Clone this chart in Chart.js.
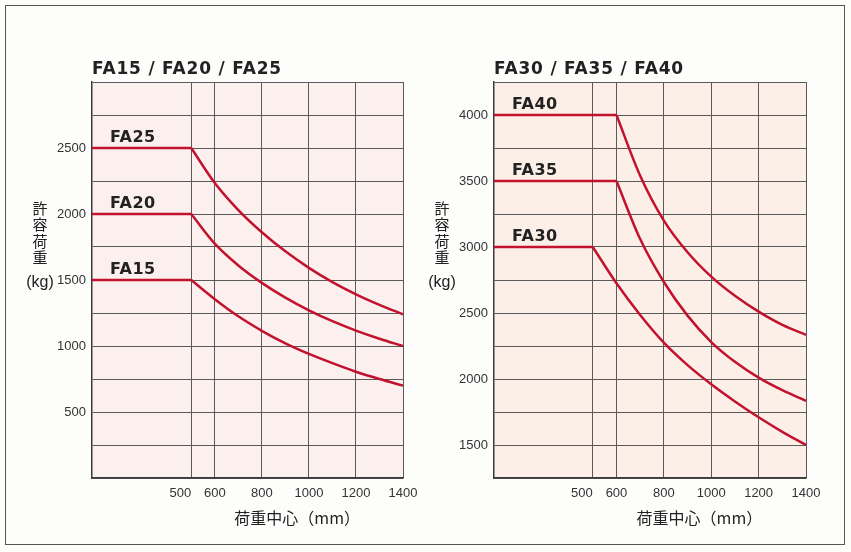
<!DOCTYPE html>
<html>
<head>
<meta charset="utf-8">
<script src="https://cdn.jsdelivr.net/npm/chart.js@4.4.1/dist/chart.umd.min.js"></script>
<style>
    html, body { margin: 0; padding: 0; background: #fdfdfb; }
    #frame { position: absolute; left: 5px; top: 5px; width: 838px; height: 538px; border: 1.5px solid #555; }
    canvas { position: absolute; top: 0; }
    #leftChart { left: 0; }
    #rightChart { left: 425px; }
</style>
</head>
<body>
<div id="frame"></div>
<canvas id="leftChart" width="425" height="552"></canvas>
<canvas id="rightChart" width="426" height="552"></canvas>
<script>
// Load center (mm) and rated capacity (kg)
const xTicks = [500, 600, 800, 1000, 1200, 1400];

const centersSmall = [500, 600, 700, 800, 900, 1000, 1100, 1200, 1300, 1400];
const fa15 = [1500, 1355, 1225, 1115, 1020, 940, 870, 805, 750, 700];
const fa20 = [2000, 1775, 1610, 1478, 1366, 1270, 1188, 1117, 1055, 1000];
const fa25 = [2500, 2235, 2030, 1862, 1717, 1592, 1484, 1392, 1312, 1240];

const centersFa30 = [500, 600, 700, 800, 900, 1000, 1100, 1200, 1300, 1400];
const fa30 = [3000, 2725, 2485, 2275, 2105, 1960, 1830, 1710, 1600, 1500];
const centersBig = [600, 700, 800, 900, 1000, 1100, 1200, 1300, 1400];
const fa35 = [3500, 3060, 2735, 2480, 2280, 2130, 2010, 1915, 1835];
const fa40 = [4000, 3540, 3200, 2960, 2775, 2630, 2510, 2410, 2335];

const leftYLabels = [500, 1000, 1500, 2000, 2500];
const rightYLabels = [1500, 2000, 2500, 3000, 3500, 4000];

const colors = {
    line: '#c2122e',
    grid: '#5a5a5a',
    border: '#3a3a3a',
    text: '#222222',
    tick: '#333333'
};

// flat part from the axis start, then the curve
function modelDatasets(xs, ys, xMin) {
    const pts = xs.map((x, i) => ({ x: x, y: ys[i] }));
    const style = { borderColor: colors.line, borderWidth: 2.5, pointRadius: 0, fill: false };
    return [
        { ...style, data: [{ x: xMin, y: ys[0] }, pts[0]], tension: 0 },
        { ...style, data: pts, cubicInterpolationMode: 'monotone' }
    ];
}

const decor = {
    id: 'decor',
    beforeDraw(chart, args, opts) {
        const { ctx, chartArea: a } = chart;
        ctx.save();
        ctx.fillStyle = opts.bg;
        ctx.fillRect(a.left, a.top, a.right - a.left, a.bottom - a.top);
        ctx.restore();
    },
    afterDatasetsDraw(chart, args, opts) {
        const { ctx, chartArea: a } = chart;
        const xs = chart.scales.x, ys = chart.scales.y;
        ctx.save();
        ctx.fillStyle = colors.text;

        // panel title
        ctx.font = 'bold 17px "DejaVu Sans"';
        ctx.letterSpacing = '0.8px';
        ctx.textAlign = 'left';
        ctx.textBaseline = 'alphabetic';
        ctx.fillText(opts.title, a.left, a.top - 8);

        // model labels above the flat lines
        ctx.font = 'bold 16px "DejaVu Sans"';
        ctx.letterSpacing = '0.5px';
        opts.labels.forEach(l => {
            ctx.fillText(l.name, a.left + 18, ys.getPixelForValue(l.value) - 6);
        });
        ctx.letterSpacing = '0px';

        // x tick labels
        ctx.fillStyle = colors.tick;
        ctx.font = '13px "Liberation Sans"';
        ctx.textAlign = 'center';
        ctx.textBaseline = 'middle';
        xs.ticks.forEach(t => {
            const shift = t.value === 500 ? -11 : 0;
            ctx.fillText(String(t.value), xs.getPixelForValue(t.value) + shift, a.bottom + 15);
        });

        // axis titles
        ctx.fillStyle = colors.text;
        ctx.font = '16px "Noto Sans CJK JP"';
        const mid = (xs.getPixelForValue(500) + xs.getPixelForValue(1400)) / 2;
        ctx.fillText('荷重中心（mm）', mid, a.bottom + 40);

        const yx = a.left - 52;
        ctx.font = '15px "Noto Sans CJK JP"';
        ['許', '容', '荷', '重'].forEach((c, i) => {
            ctx.fillText(c, yx, a.top + 126 + i * 16.5);
        });
        ctx.font = '16px "Liberation Sans"';
        ctx.fillText('(kg)', yx, a.top + 201);
        ctx.restore();
    }
};

function buildChart(id, cfg) {
    return new Chart(document.getElementById(id), {
        type: 'line',
        data: { datasets: cfg.datasets },
        options: {
            responsive: false,
            animation: false,
            events: [],
            layout: { padding: { top: 82, bottom: 34, left: 0, right: cfg.padRight } },
            plugins: {
                legend: { display: false },
                tooltip: { enabled: false },
                decor: { title: cfg.title, labels: cfg.labels, bg: cfg.bg }
            },
            scales: {
                x: {
                    type: 'linear',
                    min: cfg.xMin,
                    max: 1400,
                    afterBuildTicks: s => { s.ticks = xTicks.map(v => ({ value: v })); },
                    afterFit: s => { s.height = 40; },
                    ticks: { display: false },
                    grid: { color: colors.grid, lineWidth: 1, drawTicks: false },
                    border: { color: colors.border, width: 1.5 }
                },
                y: {
                    min: cfg.yMin,
                    max: cfg.yMax,
                    afterFit: s => { s.width = cfg.yWidth; },
                    ticks: {
                        stepSize: 250,
                        autoSkip: false,
                        padding: 6,
                        color: colors.tick,
                        font: { family: '"Liberation Sans"', size: 13 },
                        callback: v => cfg.yLabels.includes(v) ? String(v) : ''
                    },
                    grid: { color: colors.grid, lineWidth: 1, drawTicks: false },
                    border: { color: colors.border, width: 1.5 }
                }
            }
        },
        plugins: [decor]
    });
}

buildChart('leftChart', {
    title: 'FA15 / FA20 / FA25',
    xMin: 78, yMin: 0, yMax: 3000, yWidth: 92, padRight: 22,
    yLabels: leftYLabels,
    bg: '#fbf0ee',
    labels: [{ name: 'FA25', value: fa25[0] }, { name: 'FA20', value: fa20[0] }, { name: 'FA15', value: fa15[0] }],
    datasets: [
        ...modelDatasets(centersSmall, fa25, 78),
        ...modelDatasets(centersSmall, fa20, 78),
        ...modelDatasets(centersSmall, fa15, 78)
    ]
});

buildChart('rightChart', {
    title: 'FA30 / FA35 / FA40',
    xMin: 83, yMin: 1250, yMax: 4250, yWidth: 69, padRight: 45,
    yLabels: rightYLabels,
    bg: '#fcefe8',
    labels: [{ name: 'FA40', value: fa40[0] }, { name: 'FA35', value: fa35[0] }, { name: 'FA30', value: fa30[0] }],
    datasets: [
        ...modelDatasets(centersBig, fa40, 83),
        ...modelDatasets(centersBig, fa35, 83),
        ...modelDatasets(centersFa30, fa30, 83)
    ]
});
</script>
</body>
</html>
